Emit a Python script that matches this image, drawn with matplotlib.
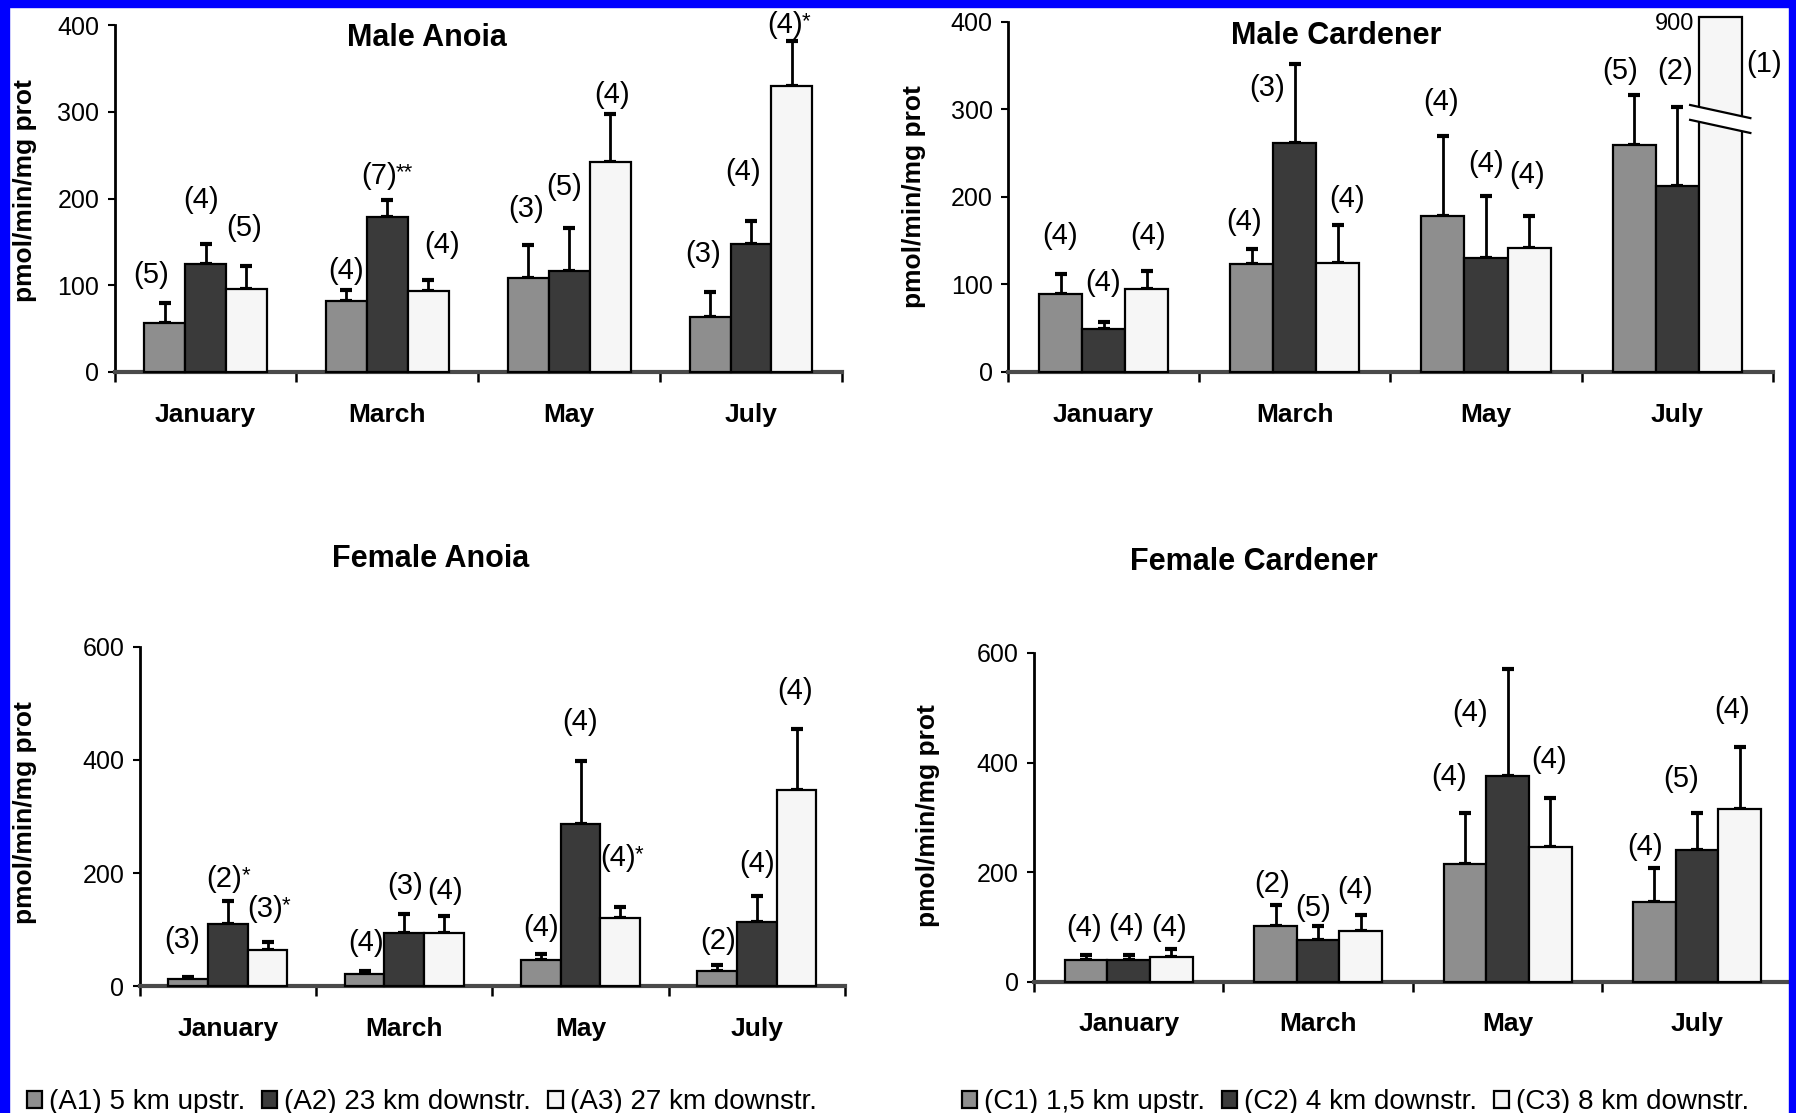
import numpy as np
import matplotlib
matplotlib.use("Agg")
import matplotlib.pyplot as plt
from matplotlib.patches import Rectangle, Polygon
from matplotlib.lines import Line2D

plt.rcParams['font.family'] = ['Liberation Sans', 'DejaVu Sans']

months = ['January', 'March', 'May', 'July']

# ---------------- data (means, SE, n) ----------------
# Male Anoia
ma_A1 = [57, 82, 108, 63]
ma_A2 = [125, 179, 117, 148]
ma_A3 = [96, 93, 242, 330]
ma_A1_se = [23, 13, 39, 29]
ma_A2_se = [23, 19, 49, 26]
ma_A3_se = [26, 13, 56, 52]
ma_n = [['(5)', '(4)', '(3)', '(3)'], ['(4)', '(7)', '(5)', '(4)'], ['(5)', '(4)', '(4)', '(4)']]
ma_star = [['', '', '', ''], ['', '**', '', ''], ['', '', '', '*']]

# Male Cardener
mc_C1 = [89, 123, 178, 259]
mc_C2 = [49, 261, 130, 213]
mc_C3 = [95, 124, 142, 900]
mc_C1_se = [23, 18, 92, 57]
mc_C2_se = [8, 91, 71, 90]
mc_C3_se = [20, 44, 36, np.nan]
mc_n = [['(4)', '(4)', '(4)', '(5)'], ['(4)', '(3)', '(4)', '(2)'], ['(4)', '(4)', '(4)', '(1)']]
mc_star = [['', '', '', ''], ['', '', '', ''], ['', '', '', '']]

# Female Anoia
fa_A1 = [13, 21, 46, 27]
fa_A2 = [110, 94, 286, 113]
fa_A3 = [63, 94, 120, 347]
fa_A1_se = [3, 5, 10, 10]
fa_A2_se = [40, 33, 112, 47]
fa_A3_se = [15, 30, 19, 107]
fa_n = [['(3)', '(4)', '(4)', '(2)'], ['(2)', '(3)', '(4)', '(4)'], ['(3)', '(4)', '(4)', '(4)']]
fa_star = [['', '', '', ''], ['*', '', '', ''], ['*', '', '*', '']]

# Female Cardener
fc_C1 = [39, 102, 215, 146]
fc_C2 = [39, 76, 376, 241]
fc_C3 = [44, 93, 245, 316]
fc_C1_se = [9, 37, 93, 62]
fc_C2_se = [10, 25, 194, 67]
fc_C3_se = [16, 29, 91, 113]
fc_n = [['(4)', '(2)', '(4)', '(4)'], ['(4)', '(5)', '(4)', '(5)'], ['(4)', '(4)', '(4)', '(4)']]
fc_star = [['', '', '', ''], ['', '', '', ''], ['', '', '', '']]

anoia_labels = ['(A1) 5 km upstr.', '(A2) 23 km downstr.', '(A3) 27 km downstr.']
cardener_labels = ['(C1) 1,5 km upstr.', '(C2) 4 km downstr.', '(C3) 8 km downstr.']

# ---------------- layout / style ----------------
S = 0.825  # reference px -> points
ma_off = [[(-12, 24), (0, 16), (-2, 31), (-6, 33)],
          [(-4, 38), (-7, 21), (-4, 36), (-7, 43)],
          [(-2, 33), (12, 31), (2, 16), (-6, 14)]]
mc_off = [[(0, 33), (-7, 23), (-2, 29), (-12, 21)],
          [(0, 34), (-24, -21), (0, 28), (-2, 31)],
          [(1, 31), (8, 23), (-2, 36), (38, -41)]]
fa_off = [[(-5, 32), (1, 25), (0, 23), (1, 21)],
          [(-3, 19), (1, 25), (0, 34), (0, 28)],
          [(-2, 29), (1, 22), (-2, 43), (-1, 34)]]
fc_off = [[(-2, 24), (-3, 19), (-14, 31), (-8, 18)],
          [(-2, 24), (-4, 16), (-33, -38), (-14, 30)],
          [(-2, 18), (-5, 22), (-1, 33), (-7, 32)]]

colors = ['#8e8e8e', '#3a3a3a', '#f6f6f6']
W = 0.225

fig = plt.figure(figsize=(17.96, 11.13), dpi=100)
fig.patch.set_facecolor('white')


def panel(ax, means, ses, ns, stars, offs, ymax, ystep, title, title_xy, ylab_xy):
    top_disp = ymax * 1.015
    conts = []
    for j in range(3):
        x = np.arange(4) + 0.5 + (j - 1) * W
        m = np.array(means[j], dtype=float)
        disp = np.minimum(m, top_disp)
        bc = ax.bar(x, disp, width=W, color=colors[j], edgecolor='black',
                    linewidth=1.6, zorder=3, clip_on=False)
        conts.append(bc)
        se = np.array(ses[j], dtype=float)
        ok = np.isfinite(se)
        ax.errorbar(x[ok], m[ok], yerr=[np.zeros(ok.sum()), se[ok]], fmt='none',
                    ecolor='black', elinewidth=2, capsize=4.5, capthick=3, zorder=2)
        for i in range(4):
            ay = m[i] + se[i] if np.isfinite(se[i]) else disp[i]
            dx, dy = offs[j][i]
            t = ax.annotate(ns[j][i], xy=(x[i], ay), xytext=(dx * S, dy * S),
                            textcoords='offset points', ha='center', va='center',
                            fontsize=21, annotation_clip=False, zorder=5)
            if stars[j][i]:
                ax.annotate(stars[j][i], xy=(0.97, 1.0), xycoords=t, ha='left', va='top',
                            fontsize=16, annotation_clip=False)
    ax.set_xlim(0, 4)
    ax.set_ylim(0, ymax)
    ax.set_yticks(np.arange(0, ymax + 1, ystep))
    ax.set_xticks(np.arange(5))
    ax.set_xticklabels([])
    ax.set_xticks(np.arange(4) + 0.5, minor=True)
    ax.set_xticklabels(months, minor=True, fontsize=19, fontweight='bold')
    ax.tick_params(axis='x', which='minor', length=0, pad=22)
    ax.tick_params(axis='x', which='major', length=7, width=1.8, direction='out')
    ax.tick_params(axis='y', length=5, width=1.5, labelsize=18, pad=6)
    for s in ['top', 'right']:
        ax.spines[s].set_visible(False)
    ax.spines['left'].set_linewidth(2)
    ax.spines['bottom'].set_linewidth(3)
    ax.spines['bottom'].set_color('#4a4a4a')
    ax.set_facecolor('none')
    fig.text(title_xy[0] / 1796, 1 - title_xy[1] / 1113, title, ha='center', va='center',
             fontsize=22, fontweight='bold')
    fig.text(ylab_xy[0] / 1796, 1 - ylab_xy[1] / 1113, 'pmol/min/mg prot', rotation=90,
             ha='center', va='center', fontsize=19, fontweight='bold')
    return conts


ax_ma = fig.add_axes([0.0638, 0.6658, 0.405, 0.3116])
ax_mc = fig.add_axes([0.5612, 0.6658, 0.4259, 0.3146])
ax_fa = fig.add_axes([0.0778, 0.1141, 0.3927, 0.3046])
ax_fc = fig.add_axes([0.5757, 0.1181, 0.4220, 0.2952])

panel(ax_ma, [ma_A1, ma_A2, ma_A3], [ma_A1_se, ma_A2_se, ma_A3_se], ma_n, ma_star, ma_off,
      400, 100, 'Male Anoia', (427, 38), (25, 191))
panel(ax_mc, [mc_C1, mc_C2, mc_C3], [mc_C1_se, mc_C2_se, mc_C3_se], mc_n, mc_star, mc_off,
      400, 100, 'Male Cardener', (1336, 36), (914, 197))
ca = panel(ax_fa, [fa_A1, fa_A2, fa_A3], [fa_A1_se, fa_A2_se, fa_A3_se], fa_n, fa_star, fa_off,
           600, 200, 'Female Anoia', (431, 559), (25, 813))
cc = panel(ax_fc, [fc_C1, fc_C2, fc_C3], [fc_C1_se, fc_C2_se, fc_C3_se], fc_n, fc_star, fc_off,
           600, 200, 'Female Cardener', (1254, 562), (928, 816))

# axis break + "900" label on the truncated Male Cardener July C3 bar
xc3 = 3 + 0.5 + W
xl, xr = xc3 - W / 2 - 0.045, xc3 + W / 2 + 0.045
ax_mc.add_patch(Polygon([[xl, 305], [xr, 290], [xr, 273], [xl, 288]], closed=True,
                        facecolor='white', edgecolor='none', zorder=6, clip_on=False))
ax_mc.add_line(Line2D([xl, xr], [305, 290], color='black', lw=1.6, zorder=7, clip_on=False))
ax_mc.add_line(Line2D([xl, xr], [288, 273], color='black', lw=1.6, zorder=7, clip_on=False))
ax_mc.annotate('900', xy=(xc3 - W / 2, 400 * 1.015), xytext=(-3, -5), textcoords='offset points',
               ha='right', va='center', fontsize=17, annotation_clip=False)

# legends
fig.legend([c.patches[0] for c in ca], anoia_labels, loc='center left',
           bbox_to_anchor=(27 / 1796, 1 - 1102 / 1113), frameon=False, ncol=3,
           fontsize=20, handlelength=0.55, handleheight=0.55, handletextpad=0.25,
           columnspacing=0.6, borderpad=0, borderaxespad=0)
fig.legend([c.patches[0] for c in cc], cardener_labels, loc='center left',
           bbox_to_anchor=(962 / 1796, 1 - 1102 / 1113), frameon=False, ncol=3,
           fontsize=20, handlelength=0.55, handleheight=0.55, handletextpad=0.25,
           columnspacing=0.6, borderpad=0, borderaxespad=0)

# blue frame
blue = '#0000ff'
fig.patches.append(Rectangle((0, 0), 9 / 1796, 1, transform=fig.transFigure, color=blue, zorder=100))
fig.patches.append(Rectangle((1 - 7 / 1796, 0), 7 / 1796, 1, transform=fig.transFigure, color=blue, zorder=100))
fig.patches.append(Rectangle((0, 1 - 7 / 1113), 1, 7 / 1113, transform=fig.transFigure, color=blue, zorder=100))

fig.savefig('out.png', dpi=100)
